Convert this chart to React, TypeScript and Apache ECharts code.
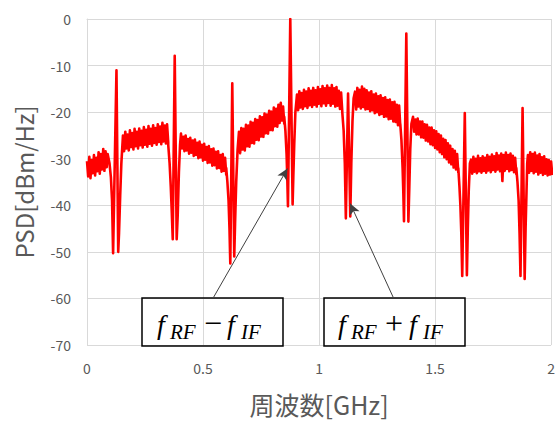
import React, { useEffect, useRef } from "react";
import * as echarts from "echarts";

// ---------- data ----------
const noiseStep = 0.01; // GHz between samples of the noise band envelopes

// noise band envelopes (upper / lower edge, dBm/Hz), one value every 0.01 GHz from each segment start
const segAStart = 0.0;
const segAUpper = [-30.5, -29.6, -30.3, -29.2, -29.8, -28.6, -29.0, -27.9, -28.4];
const segALower = [-33.8, -34.2, -33.1, -33.6, -32.7, -33.2, -32.3, -32.6, -31.8];

const segBStart = 0.155;
const segBUpper = [-25.0, -24.2, -24.8, -23.9, -24.5, -23.6, -24.2, -23.5, -24.0, -23.2, -23.8, -23.0, -23.6, -22.8, -23.4, -22.6, -23.1, -22.3, -22.9, -22.6];
const segBLower = [-28.4, -27.8, -28.2, -27.5, -28.0, -27.3, -27.8, -27.1, -27.6, -27.0, -27.4, -26.8, -27.2, -26.6, -27.0, -26.4, -26.9, -26.3, -26.7, -26.5];

const segCStart = 0.405;
const segCUpper = [-24.6, -25.3, -25.0, -25.8, -25.5, -26.1, -25.9, -26.6, -26.3, -27.0, -26.8, -27.5, -27.3, -28.0, -27.8, -28.5, -28.4, -29.2, -29.0, -29.8];
const segCLower = [-27.8, -28.4, -28.2, -28.9, -28.7, -29.4, -29.2, -29.9, -29.7, -30.4, -30.2, -30.9, -30.8, -31.5, -31.4, -32.1, -32.0, -32.8, -32.6, -33.4];

const segDStart = 0.655;
const segDUpper = [-24.2, -23.4, -23.6, -22.7, -22.9, -22.1, -22.3, -21.5, -21.7, -20.9, -21.1, -20.3, -20.5, -19.7, -19.9, -19.0, -19.3, -18.4, -18.0, -18.8];
const segDLower = [-28.8, -28.0, -28.2, -27.3, -27.4, -26.6, -26.7, -25.9, -26.0, -25.2, -25.3, -24.5, -24.6, -23.8, -23.9, -23.0, -23.1, -22.3, -21.8, -22.5];

const segEStart = 0.905;
const segEUpper = [-16.2, -15.5, -15.9, -15.2, -15.6, -14.9, -15.4, -14.8, -15.3, -14.6, -15.1, -14.4, -14.9, -14.3, -14.8, -14.2, -14.9, -14.6, -15.4, -15.8];
const segELower = [-19.6, -19.0, -19.3, -18.7, -19.1, -18.5, -18.9, -18.4, -18.8, -18.2, -18.7, -18.1, -18.6, -18.0, -18.6, -18.2, -18.8, -18.6, -19.3, -19.8];

const segFStart = 1.155;
const segFUpper = [-15.6, -14.8, -15.2, -14.5, -15.0, -15.3, -15.8, -15.5, -16.2, -16.0, -16.6, -16.4, -17.0, -16.8, -17.4, -17.3, -17.9, -17.8, -18.4, -18.6];
const segFLower = [-19.4, -18.8, -19.2, -18.9, -19.4, -19.3, -19.8, -19.6, -20.2, -20.0, -20.6, -20.4, -21.0, -20.9, -21.5, -21.4, -22.0, -22.1, -22.8, -23.0];

const segGStart = 1.405;
const segGUpper = [-21.0, -21.6, -21.4, -22.0, -22.0, -22.6, -22.7, -23.3, -23.3, -23.9, -24.1, -24.7, -25.0, -25.7, -26.0, -26.7, -27.2, -27.9, -28.3, -29.0];
const segGLower = [-24.2, -24.8, -24.8, -25.4, -25.5, -26.1, -26.3, -26.9, -27.1, -27.7, -28.0, -28.6, -29.0, -29.7, -30.1, -30.8, -31.2, -31.9, -32.3, -33.0];

const segHStart = 1.655;
const segHUpper = [-30.2, -29.6, -30.0, -29.4, -29.9, -29.5, -29.8, -29.2, -29.6, -29.1, -29.5, -28.8, -29.3, -28.9, -29.2, -28.7, -29.2, -28.9, -29.4, -29.8];
const segHLower = [-33.2, -32.8, -33.1, -32.7, -33.0, -32.6, -33.0, -32.5, -32.9, -32.4, -32.8, -32.3, -32.7, -34.8, -32.6, -32.2, -32.7, -32.4, -32.9, -33.3];

const segIStart = 1.9;
const segIUpper = [-29.2, -28.6, -29.0, -28.7, -29.3, -29.0, -29.7, -29.5, -30.1, -30.3, -30.6];
const segILower = [-33.0, -32.6, -33.1, -32.8, -33.4, -33.0, -33.5, -33.2, -33.6, -33.4, -33.5];

// spurs / notches: [frequency GHz, PSD dBm/Hz]
const spur1 = [[0.089, -29], [0.097, -31], [0.103, -34], [0.108, -39], [0.1125, -50.3], [0.127, -11], [0.1345, -50], [0.138, -46], [0.143, -38], [0.148, -31]];
const spur2 = [[0.35, -27], [0.356, -31], [0.361, -36], [0.365, -41], [0.3695, -47.3], [0.378, -7.9], [0.3865, -47.3], [0.391, -42], [0.396, -33], [0.401, -27]];
const spur3 = [[0.6, -32], [0.605, -35], [0.61, -39], [0.614, -45], [0.6175, -52.5], [0.626, -13.8], [0.6345, -51], [0.638, -44], [0.643, -35], [0.649, -28]];
const spur4 = [[0.85, -21], [0.855, -24], [0.86, -29], [0.863, -34], [0.866, -40.2], [0.876, 0], [0.886, -39.8], [0.889, -34], [0.893, -27], [0.898, -20]];
const notch5 = [[1.1, -20], [1.106, -24], [1.111, -31], [1.1155, -42.8], [1.125, -16], [1.1345, -42.4], [1.139, -31], [1.144, -22], [1.149, -17]];
const spur6 = [[1.35, -22.5], [1.355, -26], [1.36, -32], [1.363, -37], [1.366, -43.4], [1.376, -3.1], [1.385, -43.5], [1.389, -36], [1.393, -28], [1.398, -22.5]];
const spur7 = [[1.6, -32], [1.605, -36], [1.609, -40], [1.613, -46], [1.617, -55.2], [1.628, -20.2], [1.637, -55], [1.641, -45], [1.645, -37], [1.65, -31]];
const spur8 = [[1.85, -32], [1.855, -35], [1.86, -39], [1.864, -46], [1.868, -55.2], [1.877, -19.1], [1.886, -55.8], [1.89, -45], [1.894, -37], [1.897, -31]];

// axes
const xMin = 0, xMax = 2, xInterval = 0.5;
const yMin = -70, yMax = 0, yInterval = 10;

// annotation arrows: [tail, head] in data coordinates
const arrowDiff = [[0.546, -59.7], [0.864, -32.1]];
const arrowSum = [[1.319, -59.7], [1.134, -39.6]];

// ---------- build ----------
// the noisy trace swings between the upper and lower envelope of each sample
function buildTrace(): number[][] {
  const pts: number[][] = [];
  const segs: [number, number[], number[]][] = [
    [segAStart, segAUpper, segALower],
    [segBStart, segBUpper, segBLower],
    [segCStart, segCUpper, segCLower],
    [segDStart, segDUpper, segDLower],
    [segEStart, segEUpper, segELower],
    [segFStart, segFUpper, segFLower],
    [segGStart, segGUpper, segGLower],
    [segHStart, segHUpper, segHLower],
    [segIStart, segIUpper, segILower],
  ];
  segs.forEach(([s, up, lo]) => {
    up.forEach((u, i) => {
      const f = s + i * noiseStep;
      pts.push([+f.toFixed(4), u]);
      pts.push([+(f + noiseStep / 2).toFixed(4), lo[i]]);
    });
  });
  [spur1, spur2, spur3, spur4, notch5, spur6, spur7, spur8].forEach((sp) => {
    sp.forEach(([f, v]) => pts.push([f, v]));
  });
  pts.sort((a, b) => a[0] - b[0]);
  return pts;
}

const RED = "#ff0000";
const FONT = "'Noto Sans CJK JP', 'Noto Sans', sans-serif";
const MATH = "'Liberation Serif', 'DejaVu Serif', serif";

function mathText(x: number, y: number, text: string, size: number, italic = true) {
  return {
    type: "text",
    x,
    y,
    z: 101,
    style: {
      text,
      fontSize: size,
      fontFamily: MATH,
      fontStyle: italic ? "italic" : "normal",
      fill: "#000",
      align: "left",
      verticalAlign: "middle",
    },
  };
}

export default function App() {
  const ref = useRef<HTMLDivElement>(null);
  useEffect(() => {
    if (!ref.current) return;
    const chart = echarts.init(ref.current, undefined, { renderer: "svg" });
    const trace = buildTrace();

    chart.setOption({
      animation: false,
      backgroundColor: "#ffffff",
      grid: { left: 87, right: 5, top: 19, bottom: 75, containLabel: false },
      xAxis: {
        type: "value",
        min: xMin,
        max: xMax,
        interval: xInterval,
        name: "周波数[GHz]",
        nameLocation: "middle",
        nameGap: 46,
        nameTextStyle: { fontSize: 25, color: "#595959", fontFamily: FONT },
        axisLine: { show: true, lineStyle: { color: "#d9d9d9", width: 1 } },
        axisTick: { show: false },
        axisLabel: { fontSize: 14, color: "#595959", fontFamily: FONT, margin: 16 },
        splitLine: { show: true, lineStyle: { color: "#d9d9d9", width: 1 } },
      },
      yAxis: {
        type: "value",
        min: yMin,
        max: yMax,
        interval: yInterval,
        name: "PSD[dBm/Hz]",
        nameLocation: "middle",
        nameGap: 52,
        nameTextStyle: { fontSize: 24, color: "#595959", fontFamily: FONT },
        axisLine: { show: true, lineStyle: { color: "#d9d9d9", width: 1 } },
        axisTick: { show: false },
        axisLabel: { fontSize: 14, color: "#595959", fontFamily: FONT, margin: 16 },
        splitLine: { show: true, lineStyle: { color: "#d9d9d9", width: 1 } },
      },
      series: [
        {
          type: "line",
          name: "PSD",
          data: trace,
          symbol: "none",
          lineStyle: { color: RED, width: 2.6, join: "round" },
          z: 3,
          markLine: {
            silent: true,
            symbol: ["none", "arrow"],
            symbolSize: [8, 11],
            label: { show: false },
            lineStyle: { color: "#404040", width: 1, type: "solid" },
            data: [
              [{ coord: arrowDiff[0] }, { coord: arrowDiff[1] }],
              [{ coord: arrowSum[0] }, { coord: arrowSum[1] }],
            ],
          },
        },
      ],
      graphic: [
        { type: "rect", z: 100, shape: { x: 142, y: 298, width: 141, height: 48 }, style: { fill: "none", stroke: "#000", lineWidth: 1.5 } },
        { type: "rect", z: 100, shape: { x: 324, y: 298, width: 141, height: 48 }, style: { fill: "none", stroke: "#000", lineWidth: 1.5 } },
        mathText(157, 324, "f", 28),
        mathText(170, 332, "RF", 21),
        mathText(204, 323, "\u2212", 32, false),
        mathText(227, 324, "f", 28),
        mathText(241, 332, "IF", 21),
        mathText(338, 324, "f", 28),
        mathText(351, 332, "RF", 21),
        mathText(385, 323, "+", 32, false),
        mathText(409, 324, "f", 28),
        mathText(423, 332, "IF", 21),
      ],
    });
    return () => chart.dispose();
  }, []);
  return (
    <div
      ref={ref}
      style={{ position: "fixed", left: 0, top: 0, width: 558, height: 421, background: "#fff" }}
    />
  );
}
